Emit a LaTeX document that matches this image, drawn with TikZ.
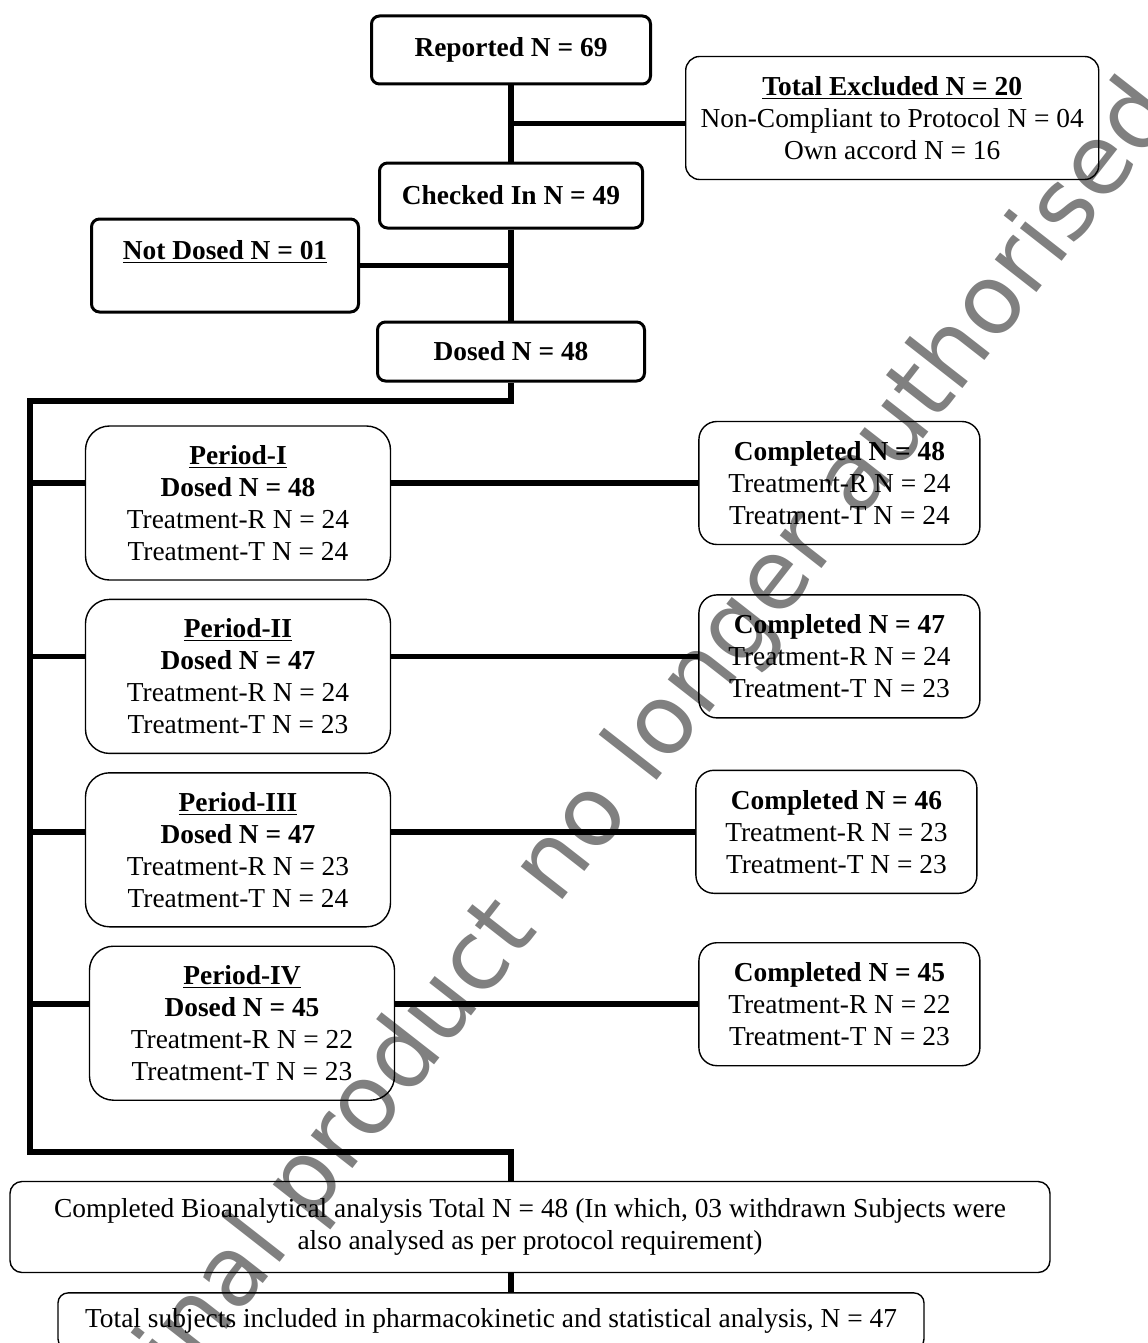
\documentclass[tikz,border=0pt]{standalone}
\usepackage{fontspec}
\setmainfont{Liberation Serif}
\newfontfamily\wmfont{DejaVu Sans}
\usetikzlibrary{calc, positioning}
\tikzset{
    top_node/.style={rectangle, rounded corners=4pt, line width=1.5pt, draw=black, text centered, align=center, font=\fontsize{13.7}{16}\selectfont\bfseries},
    excl_node/.style={rectangle, rounded corners=7pt, line width=0.7pt, draw=black, text centered, align=center, minimum width=206.5pt, minimum height=61.5pt, font=\fontsize{13.7}{16}\selectfont},
    period_node/.style={rectangle, rounded corners=12pt, line width=0.7pt, draw=black, text centered, align=center, minimum width=152.5pt, minimum height=77pt, font=\fontsize{13.7}{16}\selectfont},
    comp_node/.style={rectangle, rounded corners=9pt, line width=0.7pt, draw=black, text centered, align=center, minimum width=140.5pt, minimum height=61.5pt, font=\fontsize{13.7}{16}\selectfont},
    wide_node/.style={rectangle, rounded corners=6pt, line width=0.7pt, draw=black, text centered, align=center, font=\fontsize{13.7}{16.2}\selectfont},
    line/.style={line width=2.8pt},
    watermark/.style={text=black!50, font=\wmfont\fontsize{48.4}{58}\selectfont},
}
\begin{document}
\begin{tikzpicture}[x=0.5pt, y=-0.5pt]
      \useasboundingbox (0,0) rectangle (1147,1343);
      \node (stamp) [watermark, rotate=52] at (572,845)
            {Medicinal product no longer authorised};
      %%%%%%%%%%%%%%%%%
      % SCREENING     %
      %%%%%%%%%%%%%%%%%
      \node (reported) [top_node, minimum width=139.5pt, minimum height=34pt] at (511,50)
            {Reported N = 69};
      \node (checked) [top_node, minimum width=131.5pt, minimum height=32.5pt, below = 38pt of reported]
            {Checked In N = 49};
      \node (dosed) [top_node, minimum width=133.5pt, minimum height=29.5pt, below = 45.5pt of checked]
            {Dosed N = 48};
      \node (excluded) [excl_node, right = 16.5pt of reported, yshift=-34pt]
            {\textbf{\underline{Total Excluded N = 20}}\\ Non-Compliant to Protocol N = 04\\ Own accord N = 16};
      \node (notdosed) [top_node, minimum width=133.5pt, minimum height=46.5pt, left = 9pt of checked, yshift=-35pt]
            {\underline{Not Dosed N = 01}\\ \mbox{}};

      \coordinate (excl_split) at ($(reported.south)!0.5!(checked.north)$);
      \draw [line] (reported.south) -- (checked.north);
      \draw [line] (excl_split) -- (excl_split -| excluded.west);
      \draw [line] (checked.south) -- (dosed.north);
      \draw [line] (notdosed.east) -- (notdosed.east -| checked.south);

      %%%%%%%%%%%%%%%%%
      % PERIODS       %
      %%%%%%%%%%%%%%%%%
      \node (per1) [period_node] at (238,503)
            {\textbf{\underline{Period-I}}\\ \textbf{Dosed N = 48}\\ Treatment-R N = 24\\ Treatment-T N = 24};
      \node (per2) [period_node, below = 9pt of per1]
            {\textbf{\underline{Period-II}}\\ \textbf{Dosed N = 47}\\ Treatment-R N = 24\\ Treatment-T N = 23};
      \node (per3) [period_node, below = 9pt of per2]
            {\textbf{\underline{Period-III}}\\ \textbf{Dosed N = 47}\\ Treatment-R N = 23\\ Treatment-T N = 24};
      \node (per4) [period_node, below = 9pt of per3, xshift=2pt]
            {\textbf{\underline{Period-IV}}\\ \textbf{Dosed N = 45}\\ Treatment-R N = 22\\ Treatment-T N = 23};

      \node (comp1) [comp_node, right = 153.5pt of per1, yshift=10pt]
            {\textbf{Completed N = 48}\\ Treatment-R N = 24\\ Treatment-T N = 24};
      \node (comp2) [comp_node, right = 153.5pt of per2, yshift=10pt]
            {\textbf{Completed N = 47}\\ Treatment-R N = 24\\ Treatment-T N = 23};
      \node (comp3) [comp_node, right = 152pt of per3, yshift=9pt]
            {\textbf{Completed N = 46}\\ Treatment-R N = 23\\ Treatment-T N = 23};
      \node (comp4) [comp_node, right = 151.5pt of per4, yshift=9.5pt]
            {\textbf{Completed N = 45}\\ Treatment-R N = 22\\ Treatment-T N = 23};

      %%%%%%%%%%%%%%%%%
      % ANALYSIS      %
      %%%%%%%%%%%%%%%%%
      \node (bio) [wide_node, minimum width=520pt, minimum height=45.5pt] at (530,1227)
            {Completed Bioanalytical analysis Total N = 48 (In which, 03 withdrawn Subjects were\\ also analysed as per protocol requirement)};
      \node (total) [wide_node, rounded corners=5pt, minimum width=433pt, minimum height=28pt, below = 9.5pt of bio, xshift=-19.5pt]
            {Total subjects included in pharmacokinetic and statistical analysis, N = 47};

      \coordinate (spine_top) at (30,401);
      \coordinate (spine_bot) at (30,1152);
      \draw [line] (dosed.south) |- (spine_top) -- (spine_bot) -| (bio.north -| dosed.south);
      \draw [line] (bio.south -| dosed.south) -- (total.north -| dosed.south);
      \foreach \i in {1,...,4} {
          \draw [line] (spine_top |- comp\i.west) -- (comp\i.west -| per\i.west);
          \draw [line] (per\i.east |- comp\i.west) -- (comp\i.west);
      }
\end{tikzpicture}
\end{document}
